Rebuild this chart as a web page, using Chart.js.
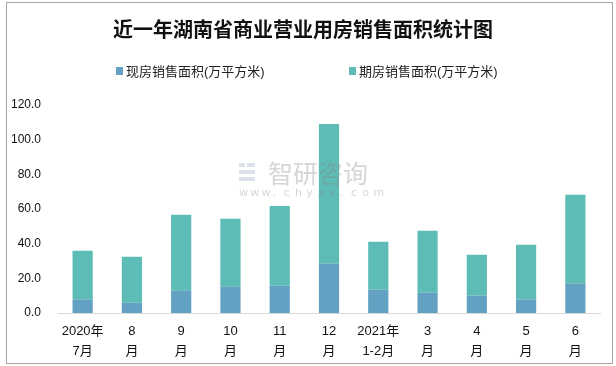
<!DOCTYPE html>
<html>
<head>
<meta charset="utf-8">
<script src="https://cdn.jsdelivr.net/npm/chart.js@4/dist/chart.umd.min.js"></script>
<style>
  html, body { margin: 0; padding: 0; background: #fff; }
  #wrap { width: 616px; height: 366px; position: relative; }
</style>
</head>
<body>
<div id="wrap"><canvas id="c" width="616" height="366"></canvas></div>
<script>
const titleText = "近一年湖南省商业营业用房销售面积统计图";
const categories = [["2020年","7月"],["8","月"],["9","月"],["10","月"],["11","月"],["12","月"],["2021年","1-2月"],["3","月"],["4","月"],["5","月"],["6","月"]];
const seriesNames = ["现房销售面积(万平方米)", "期房销售面积(万平方米)"];
const existingArea = [7.7, 5.9, 12.9, 15.2, 15.7, 28.4, 13.4, 11.7, 10.0, 7.7, 16.9];
const forwardArea = [28.2, 26.5, 43.8, 39.2, 46.1, 80.7, 27.7, 35.7, 23.6, 31.7, 51.3];
const yTicks = [0, 20, 40, 60, 80, 100, 120];

const colors = ["#62A1C1", "#5DBCB5"];
const cjk = "'Liberation Sans','Noto Sans CJK SC',sans-serif";

const framePlugin = {
  id: 'frame',
  beforeDraw(chart) {
    const ctx = chart.ctx;
    ctx.save();
    ctx.fillStyle = '#fff';
    ctx.fillRect(0, 0, chart.width, chart.height);
    ctx.strokeStyle = '#a6a6a6';
    ctx.lineWidth = 1;
    ctx.strokeRect(6.5, 2.5, 606, 361);
    ctx.restore();
  },
  afterDatasetsDraw(chart) {
    const ctx = chart.ctx;
    ctx.save();
    // watermark
    ctx.globalAlpha = 0.35;
    ctx.fillStyle = '#9aa8c8';
    ctx.fillRect(239, 163, 6, 4);
    ctx.fillRect(247, 163, 8, 4);
    ctx.fillRect(239, 170, 16, 4);
    ctx.fillRect(239, 177, 16, 4);
    ctx.fillStyle = '#888';
    ctx.font = "25px 'Noto Sans CJK SC'";
    ctx.textBaseline = 'middle';
    ctx.textAlign = 'left';
    ctx.fillText("智研咨询", 268, 173);
    ctx.font = "11px 'DejaVu Sans'";
    const wm = "www.chyxx.com";
    let x = 239;
    for (const ch of wm) { ctx.fillText(ch, x, 193); x += 11.2; }
    ctx.restore();
  },
  afterDraw(chart) {
    const ctx = chart.ctx;
    ctx.save();
    // legend
    const pos = [116, 349];
    ctx.font = "13px " + cjk;
    ctx.textBaseline = 'middle';
    ctx.textAlign = 'left';
    chart.data.datasets.forEach((ds, i) => {
      ctx.fillStyle = ds.backgroundColor;
      ctx.fillRect(pos[i], 67, 7, 8);
      ctx.fillStyle = '#222';
      ctx.fillText(ds.label, pos[i] + 10, 72);
    });
    ctx.restore();
  }
};

new Chart(document.getElementById('c'), {
  type: 'bar',
  data: {
    labels: categories,
    datasets: [
      { label: seriesNames[0], data: existingArea, backgroundColor: colors[0], barPercentage: 0.41, categoryPercentage: 1.0 },
      { label: seriesNames[1], data: forwardArea, backgroundColor: colors[1], barPercentage: 0.41, categoryPercentage: 1.0 }
    ]
  },
  options: {
    responsive: false,
    animation: false,
    devicePixelRatio: 1,
    layout: { padding: { top: 0, left: 6, right: 16, bottom: 3 } },
    plugins: {
      legend: { display: false },
      tooltip: { enabled: false },
      title: {
        display: true,
        text: titleText,
        color: '#111',
        font: { family: "'Noto Sans CJK SC',sans-serif", size: 20, weight: 'bold', lineHeight: 1.2 },
        padding: { top: 17, bottom: 64 }
      }
    },
    scales: {
      x: {
        stacked: true,
        grid: { display: false, drawTicks: false },
        border: { display: true, color: '#d9d9d9', width: 1 },
        ticks: { color: '#111', font: { family: cjk, size: 13, lineHeight: 1.5 }, padding: 9, maxRotation: 0, autoSkip: false },
        afterFit(scale) { scale.height = 50; }
      },
      y: {
        stacked: true,
        min: 0, max: 120,
        grid: { display: false, drawTicks: false },
        border: { display: false },
        afterBuildTicks(scale) { scale.ticks = yTicks.map(v => ({ value: v })); },
        ticks: {
          color: '#111',
          font: { family: "'Liberation Sans',sans-serif", size: 12 },
          padding: 17,
          callback: (v) => Number(v).toFixed(1)
        },
        afterFit(scale) { scale.width = 52; }
      }
    }
  },
  plugins: [framePlugin]
});
</script>
</body>
</html>
